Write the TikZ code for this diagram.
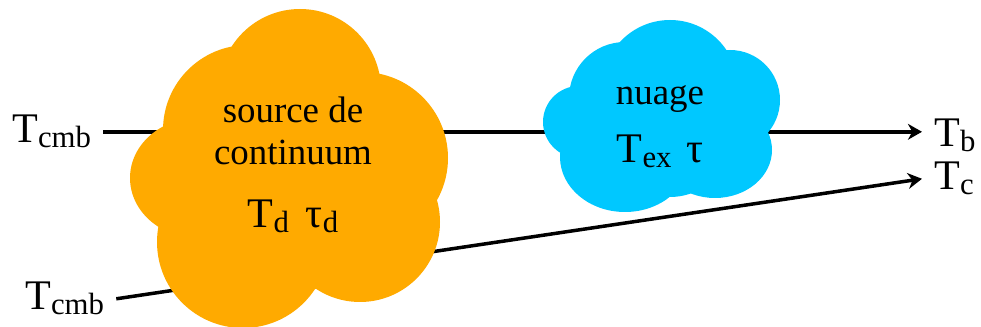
\documentclass[tikz,border=0pt]{standalone}
\usepackage{fontspec}
\setmainfont{Liberation Serif}
\usetikzlibrary{arrows.meta}
\definecolor{srcorange}{RGB}{255,170,0}
\definecolor{cloudblue}{RGB}{0,200,255}
\newcommand{\lsub}[1]{\raisebox{-2.8pt}{\fontsize{17.5}{20}\selectfont #1}}

\begin{document}
\begin{tikzpicture}[x=0.02cm, y=-0.02cm,
    tlabel/.style={inner sep=0pt, outer sep=7pt, anchor=base west,
      font=\fontsize{24}{28}\selectfont},
    intext/.style={inner sep=0pt, anchor=base, font=\fontsize{21}{25}\selectfont},
    beam/.style={line width=2pt, -{Stealth[length=8pt, width=9pt, inset=2.5pt]}}]
    \useasboundingbox (0,0) rectangle (981,327);

    % temperatures at both ends
    \node[tlabel] (cmbA) at (0,143) {T\lsub{cmb}};
    \node[tlabel] (cmbB) at (13,310) {T\lsub{cmb}};
    \node[tlabel] (tb) at (922,147) {T\lsub{b}};
    \node[tlabel] (tc) at (922,190) {T\lsub{c}};

    % rays, drawn first so the clouds hide them
    \draw[beam] (cmbA.east) -- (cmbA.east -| tb.west);
    \draw[beam] (cmbB.east) -- (tc.west);

    % continuum source
    \fill[srcorange] (300,90) circle (81);
    \fill[srcorange] (362,158) circle (86);
    \fill[srcorange] (360,222) circle (80);
    \fill[srcorange] (243,242) circle (86);
    \fill[srcorange] (198,178) ellipse (68 and 60);
    \fill[srcorange] (248,130) circle (85);
    \fill[srcorange] (300,190) circle (100);

    \node[intext] (srcA) at (293,123) {source de};
    \node[intext] (srcB) at (293,165) {continuum};
    \node[intext, font=\fontsize{24}{28}\selectfont] (srcT)
        at (293,228) {T\lsub{d}\hspace{0.4em}τ\lsub{d}};

    % cloud
    \fill[cloudblue] (670,88) circle (68);
    \fill[cloudblue] (625,98) circle (56);
    \fill[cloudblue] (579,122) circle (36);
    \fill[cloudblue] (625,157) ellipse (65 and 55);
    \fill[cloudblue] (715,150) ellipse (57 and 48);
    \fill[cloudblue] (730,100) circle (50);
    \fill[cloudblue] (670,135) circle (62);

    \node[intext] (cldA) at (660,105) {nuage};
    \node[intext, font=\fontsize{24}{28}\selectfont] (cldT)
        at (660,163) {T\lsub{ex}\hspace{0.35em}τ};
\end{tikzpicture}
\end{document}
